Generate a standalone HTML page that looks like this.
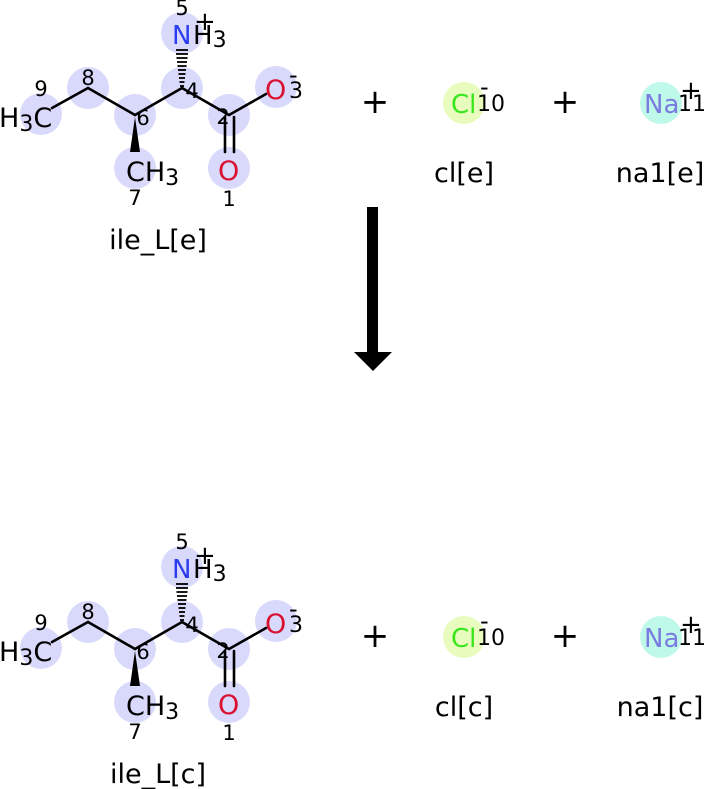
<!DOCTYPE html>
<html><head><meta charset="utf-8"><style>
html,body{margin:0;padding:0;background:#fff;}
svg{display:block;}
text{font-family:"DejaVu Sans","Liberation Sans",sans-serif;}
</style></head><body>
<svg width="704" height="789" viewBox="0 0 704 789" xmlns="http://www.w3.org/2000/svg">
<defs>
<g id="mol">
  <g fill="#d9d9fc">
    <circle cx="41" cy="114" r="21"/>
    <circle cx="88" cy="88" r="21"/>
    <circle cx="135" cy="115" r="21"/>
    <circle cx="182" cy="88" r="21"/>
    <circle cx="229" cy="115" r="21"/>
    <circle cx="276" cy="87" r="21"/>
    <circle cx="229" cy="168" r="21"/>
    <circle cx="135" cy="168" r="21"/>
    <circle cx="182" cy="33" r="21"/>
  </g>
  <g stroke="#000" stroke-width="2.6" fill="none" stroke-linecap="round">
    <line x1="52" y1="108" x2="88" y2="88"/>
    <line x1="88" y1="88" x2="135" y2="115"/>
    <line x1="135" y1="115" x2="182" y2="88"/>
    <line x1="182" y1="88" x2="229" y2="115"/>
    <line x1="229" y1="115" x2="266" y2="94"/>
    <line x1="225" y1="117" x2="225" y2="152"/>
    <line x1="234" y1="117" x2="234" y2="152"/>
  </g>
  <polygon points="135,117 130,152 140,152" fill="#000"/>
  <g stroke="#000" stroke-width="1.8">
    <line x1="180" y1="86" x2="184" y2="86"/>
    <line x1="179.5" y1="82" x2="184.5" y2="82"/>
    <line x1="179" y1="78" x2="185" y2="78"/>
    <line x1="178.5" y1="74" x2="185.5" y2="74"/>
    <line x1="178" y1="70" x2="186" y2="70"/>
    <line x1="177.5" y1="66" x2="186.5" y2="66"/>
    <line x1="177" y1="62" x2="187" y2="62"/>
    <line x1="176.5" y1="58" x2="187.5" y2="58"/>
    <line x1="176" y1="54" x2="188" y2="54"/>
    <line x1="176" y1="50" x2="188" y2="50"/>
  </g>
  <text x="-1" y="127" font-size="27" fill="#000">H<tspan font-size="22" dy="4">3</tspan><tspan dy="-4">C</tspan></text>
  <text x="126" y="181" font-size="27" fill="#000">CH<tspan font-size="22" dy="4">3</tspan></text>
  <text x="172" y="44" font-size="26" fill="#2c3cef">N</text>
  <text x="193" y="44" font-size="26" fill="#000">H<tspan font-size="22" dy="3">3</tspan></text>
  <text x="194" y="30" font-size="26" fill="#000">+</text>
  <text x="265" y="99" font-size="27" fill="#d91030">O</text>
  <text x="289" y="98" font-size="22" fill="#000">3</text>
  <text x="289" y="83" font-size="24" fill="#000">-</text>
  <text x="218" y="180" font-size="27" fill="#d91030">O</text>
  <g font-size="21" fill="#000" text-anchor="middle">
    <text x="41" y="96">9</text>
    <text x="88" y="85">8</text>
    <text x="143" y="125">6</text>
    <text x="192" y="98">4</text>
    <text x="223" y="124">2</text>
    <text x="135" y="205">7</text>
    <text x="229" y="206">1</text>
    <text x="182" y="15">5</text>
  </g>
  <text x="375" y="113" font-size="34" fill="#000" text-anchor="middle">+</text>
  <circle cx="464" cy="103" r="21" fill="#e8fcbe"/>
  <text x="451" y="113" font-size="26" fill="#39e61c">Cl</text>
  <text x="477" y="111" font-size="22" fill="#000">10</text>
  <text x="480" y="95" font-size="24" fill="#000">-</text>
  <text x="565" y="113" font-size="34" fill="#000" text-anchor="middle">+</text>
  <circle cx="661" cy="103" r="21" fill="#bff9e9"/>
  <text x="644" y="113" font-size="26" fill="#7b7be0">Na</text>
  <text x="678" y="111" font-size="22" fill="#000">11</text>
  <text x="680" y="99" font-size="26" fill="#000">+</text>
</g>
</defs>
<use href="#mol"/>
<text x="464" y="182" font-size="27" text-anchor="middle">cl[e]</text>
<text x="660" y="182" font-size="27" text-anchor="middle">na1[e]</text>
<text x="158" y="249" font-size="27" text-anchor="middle">ile_L[e]</text>
<rect x="367" y="207" width="11" height="147" fill="#000"/>
<polygon points="354,352 392,352 373,371" fill="#000"/>
<use href="#mol" y="534"/>
<text x="464" y="716" font-size="27" text-anchor="middle">cl[c]</text>
<text x="660" y="716" font-size="27" text-anchor="middle">na1[c]</text>
<text x="158" y="783" font-size="27" text-anchor="middle">ile_L[c]</text>
</svg>
</body></html>
